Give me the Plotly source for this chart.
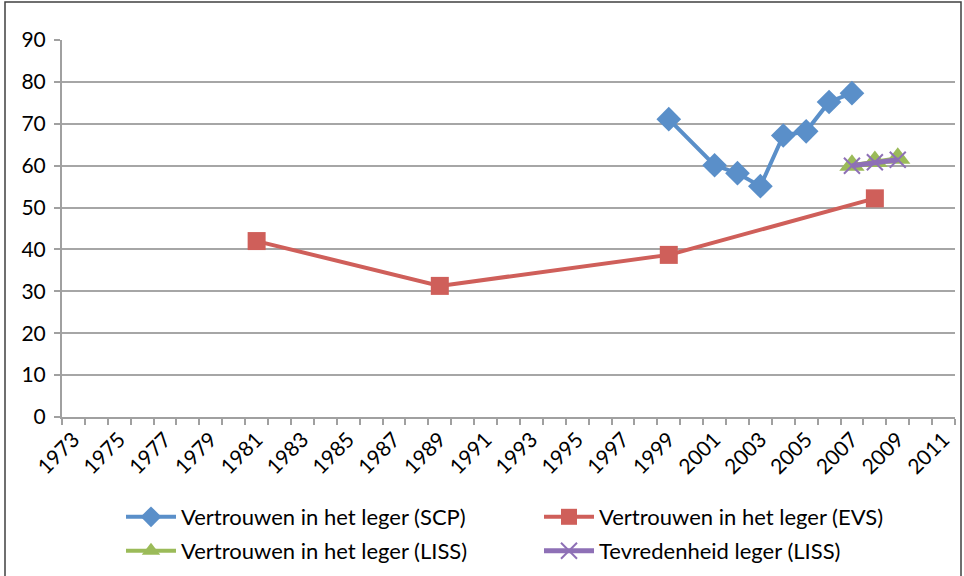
import plotly.graph_objects as go

# Data
scp_years = [1999, 2001, 2002, 2003, 2004, 2005, 2006, 2007]
scp_vals = [71.1, 60.1, 58.2, 55.1, 67.2, 68.2, 75.2, 77.3]

evs_years = [1981, 1989, 1999, 2008]
evs_vals = [42.0, 31.3, 38.7, 52.2]

liss_years = [2007, 2008, 2009]
liss_trust = [60.1, 61.0, 61.8]
liss_satis = [60.0, 60.8, 61.4]

tick_vals = list(range(1973, 2012, 2))
tick_labels = [str(y) for y in tick_vals]

FONT = "Lato, Carlito, Calibri, sans-serif"
BLUE = "#5A8FC9"
RED = "#CF5F5A"
GREEN = "#9BBB59"
PURPLE = "#8E70B6"

fig = go.Figure()
fig.add_trace(go.Scatter(x=scp_years, y=scp_vals, mode="lines+markers",
                         name="Vertrouwen in het leger (SCP)",
                         line=dict(color=BLUE, width=4),
                         marker=dict(symbol="diamond", size=19, color=BLUE),
                         legend="legend"))
fig.add_trace(go.Scatter(x=evs_years, y=evs_vals, mode="lines+markers",
                         name="Vertrouwen in het leger (EVS)",
                         line=dict(color=RED, width=4),
                         marker=dict(symbol="square", size=18, color=RED),
                         legend="legend2"))
fig.add_trace(go.Scatter(x=liss_years, y=liss_trust, mode="lines+markers",
                         name="Vertrouwen in het leger (LISS)",
                         line=dict(color=GREEN, width=4),
                         marker=dict(symbol="triangle-up", size=22, color=GREEN),
                         legend="legend3"))
fig.add_trace(go.Scatter(x=liss_years, y=liss_satis, mode="lines+markers",
                         name="Tevredenheid leger (LISS)",
                         line=dict(color=PURPLE, width=5),
                         marker=dict(symbol="x-thin", size=16, color=PURPLE,
                                     line=dict(color=PURPLE, width=2)),
                         legend="legend4"))

W, H = 964, 576
L, R, T, B = 62, 9, 40, 159
pw = W - L - R
ph = H - T - B

legend_common = dict(orientation="h", xanchor="left", yanchor="middle",
                     xref="container", yref="container",
                     font=dict(family=FONT, size=22, color="#000000"),
                     bgcolor="rgba(0,0,0,0)", itemwidth=50)

col1_x, col2_x = 121, 539
row1_y, row2_y = 517, 551


def px_x(x):
    return (x - L) / pw


def px_y(y):
    return (T + ph - y) / ph


fig.update_layout(
    width=W, height=H,
    margin=dict(l=L, r=R, t=T, b=B),
    paper_bgcolor="white", plot_bgcolor="white",
    font=dict(family=FONT, size=21, color="#000000"),
    showlegend=True,
    legend=dict(x=col1_x / W, y=1 - row1_y / H, **legend_common),
    legend2=dict(x=col2_x / W, y=1 - row1_y / H, **legend_common),
    legend3=dict(x=col1_x / W, y=1 - row2_y / H, **legend_common),
    legend4=dict(x=col2_x / W, y=1 - row2_y / H, **legend_common),
    xaxis=dict(range=[1972.5, 2011.5], tickvals=tick_vals, ticktext=tick_labels,
               tickangle=-45, ticks="", showgrid=False, zeroline=False,
               automargin=False,
               showline=True, linecolor="#A0A0A0", linewidth=2,
               tickfont=dict(family=FONT, size=21),
               minor=dict(tick0=1972.5, dtick=1, ticks="outside", ticklen=6,
                          tickcolor="#A0A0A0", tickwidth=2, showgrid=False)),
    yaxis=dict(range=[0, 90], dtick=10, tick0=0, ticks="outside", ticklen=6,
               tickcolor="#A0A0A0", tickwidth=2, automargin=False,
               showgrid=True, gridcolor="#A6A6A6", gridwidth=1.5,
               zeroline=False, showline=True, linecolor="#A0A0A0", linewidth=2,
               tickfont=dict(family=FONT, size=21), ticklabelstandoff=4),
    shapes=[dict(type="rect", xref="paper", yref="paper",
                 x0=px_x(5), x1=px_x(961),
                 y0=px_y(H + 10), y1=px_y(2),
                 line=dict(color="#404040", width=1.5), fillcolor="rgba(0,0,0,0)",
                 layer="below")],
)

fig.write_html("out.html", config={"displayModeBar": False},
               post_script="document.body.style.margin='0';")
